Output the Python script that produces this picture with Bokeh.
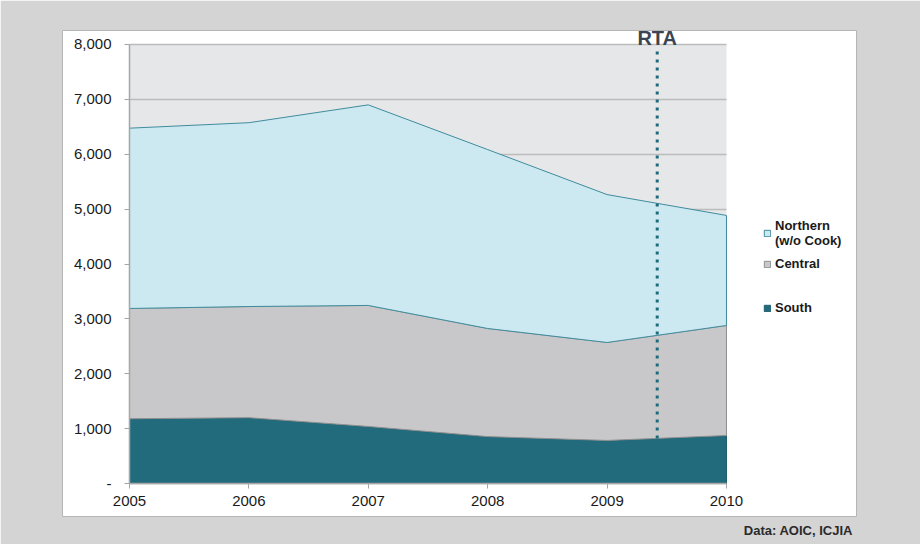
from bokeh.plotting import figure
from bokeh.models import Range1d, FixedTicker, Legend, LegendItem, Label, LinearAxis, Grid, Title
from bokeh.embed import file_html
from bokeh.resources import INLINE

# ---- data ----
years = [2005, 2006, 2007, 2008, 2009, 2010]
south = [1180, 1200, 1040, 855, 785, 875]
central = [2010, 2025, 2205, 1970, 1785, 2005]
northern = [3285, 3350, 3655, 3260, 2695, 2005]
series_labels = ["South", "Central", "Northern\n(w/o Cook)"]
y_ticks = [0, 1000, 2000, 3000, 4000, 5000, 6000, 7000, 8000]
y_tick_labels = ["-", "1,000", "2,000", "3,000", "4,000", "5,000", "6,000", "7,000", "8,000"]
rta_year = 2009.42
rta_span = [820, 7930]
rta_text = "RTA"
source_text = "Data:  AOIC, ICJIA"

# ---- styles ----
FONT = "Liberation Sans"
fills = ["#226b7d", "#c8c8ca", "#cce8f0"]
lines = ["#1d5f6f", "#8f8f8f", "#3f8c9d"]

p = figure(width=920, height=544, output_backend="svg", toolbar_location=None,
           title=None,
           x_range=Range1d(2004.439, 2011.089), y_range=Range1d(-601, 8255),
           x_axis_location=None, y_axis_location=None,
           min_border_left=62, min_border_right=64, min_border_top=30, min_border_bottom=28,
           border_fill_color="#d4d4d4", background_fill_color="white",
           outline_line_color="#b5b5b5", outline_line_width=1)
p.grid.visible = False

# plot-area background
p.quad(left=years[0], right=years[-1], bottom=y_ticks[0], top=y_ticks[-1],
       fill_color="#e6e7e9", line_color=None, level="image")

# gridlines limited to plot area
try:
    g = Grid(dimension=1, ticker=FixedTicker(ticks=y_ticks), cross_bounds=(years[0], years[-1]),
             grid_line_color="#bcbcbc", grid_line_width=1.5)
    p.add_layout(g)
except Exception:
    p.segment(x0=[years[0]] * len(y_ticks), x1=[years[-1]] * len(y_ticks), y0=y_ticks, y1=y_ticks,
              line_color="#bcbcbc", line_width=1.5, level="underlay")

# stacked areas
series = [south, central, northern]
bottom = [0] * len(years)
renderers = []
for vals, fc, lc in zip(series, fills, lines):
    top = [b + v for b, v in zip(bottom, vals)]
    xs = years + years[::-1]
    ys = top + bottom[::-1]
    r = p.patch(x=xs, y=ys, fill_color=fc, line_color=lc, line_width=1)
    renderers.append(r)
    bottom = top

# RTA marker
p.line(x=[rta_year, rta_year], y=rta_span, line_color="#1f6b7b", line_width=3, line_dash="3 5")
p.add_layout(Label(x=rta_year, y=8120, text=rta_text, text_align="center",
                   text_baseline="middle", text_font=FONT, text_font_size="20px",
                   text_font_style="bold", text_color="#3b4453"))

# axes
yaxis = LinearAxis(fixed_location=years[0], ticker=FixedTicker(ticks=y_ticks),
                   major_label_overrides={t: l for t, l in zip(y_ticks, y_tick_labels)},
                   bounds=(y_ticks[0], y_ticks[-1]),
                   axis_line_color="#a6a6a6", axis_line_width=1.5,
                   major_tick_line_color="#a6a6a6", major_tick_out=5, major_tick_in=0,
                   minor_tick_line_color=None, major_label_standoff=13,
                   major_label_text_font=FONT, major_label_text_font_size="15px",
                   major_label_text_color="#1a1a1a")
p.add_layout(yaxis, "left")

xaxis = LinearAxis(fixed_location=y_ticks[0], ticker=FixedTicker(ticks=years),
                   bounds=(years[0], years[-1]),
                   axis_line_color="#a6a6a6", axis_line_width=1.5,
                   major_tick_line_color="#a6a6a6", major_tick_out=5, major_tick_in=0,
                   minor_tick_line_color=None, major_label_standoff=7,
                   major_label_text_font=FONT, major_label_text_font_size="15px",
                   major_label_text_color="#1a1a1a")
p.add_layout(xaxis, "below")

# legends (two blocks to reproduce the uneven spacing)
legend_style = dict(padding=0, margin=0, border_line_color=None, background_fill_alpha=0,
                    glyph_width=8, glyph_height=8, label_standoff=4, spacing=8,
                    label_text_font=FONT, label_text_font_size="13px",
                    label_text_font_style="bold", label_text_color="#1a1a1a")
legend_top = Legend(items=[LegendItem(label=series_labels[2], renderers=[renderers[2]]),
                           LegendItem(label=series_labels[1], renderers=[renderers[1]])],
                    location=(701, 245), **legend_style)
legend_bottom = Legend(items=[LegendItem(label=series_labels[0], renderers=[renderers[0]])],
                       location=(701, 201), **legend_style)
p.add_layout(legend_top)
p.add_layout(legend_bottom)

# source note
p.add_layout(Title(text=source_text, align="right", offset=0, standoff=8,
                   text_font=FONT, text_font_size="13px", text_font_style="bold",
                   text_color="#2a2a2a"), "below")

open("out.html", "w").write(file_html(p, INLINE))
